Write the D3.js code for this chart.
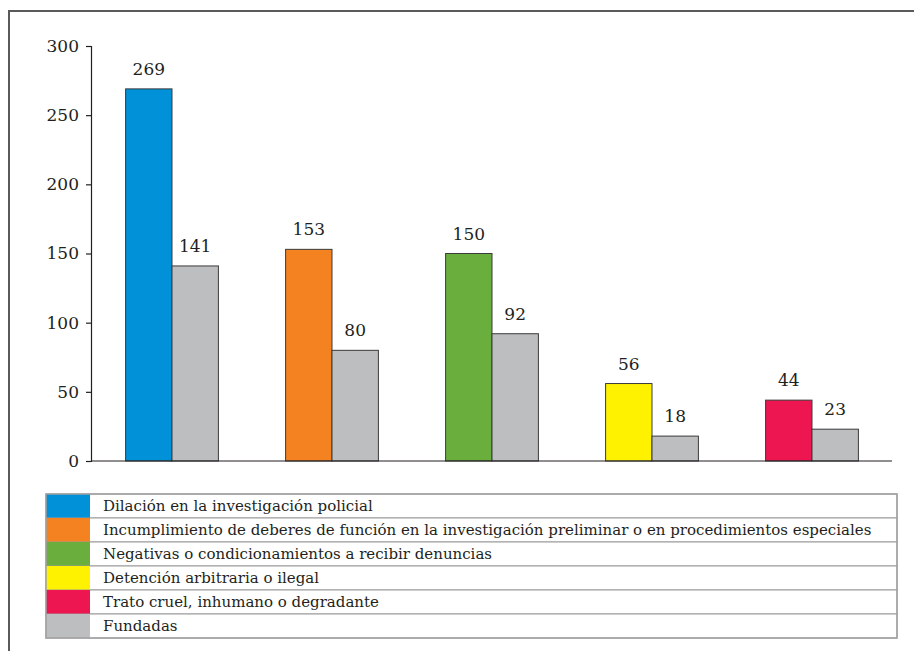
<!DOCTYPE html>
<html>
<head>
<meta charset="utf-8">
<script src="https://cdn.jsdelivr.net/npm/d3@7"></script>
<style>
  body { margin: 0; background: #fff; }
  text { font-family: "DejaVu Serif", serif; fill: #231f20; }
</style>
</head>
<body>
<script>
// Categories (legend order) and values
const categories = [
  'Dilación en la investigación policial',
  'Incumplimiento de deberes de función en la investigación preliminar o en procedimientos especiales',
  'Negativas o condicionamientos a recibir denuncias',
  'Detención arbitraria o ilegal',
  'Trato cruel, inhumano o degradante'
];
const totals = [269, 153, 150, 56, 44];
const fundadas = [141, 80, 92, 18, 23];
const colors = ['#0091d8', '#f58220', '#6aae3e', '#fff200', '#ed1651'];
const grayColor = '#bcbec0';
const yTicks = [0, 50, 100, 150, 200, 250, 300];
const legendLabels = categories.concat(['Fundadas']);
const legendColors = colors.concat([grayColor]);

const W = 914, H = 651;
const svg = d3.select('body').append('svg')
  .attr('width', W)
  .attr('height', H);

// outer frame (left and top edges visible)
svg.append('path')
  .attr('d', 'M9,' + H + ' L9,11 L' + W + ',11')
  .attr('fill', 'none')
  .attr('stroke', '#5a5a5a')
  .attr('stroke-width', 2);

// Scales
const x0 = d3.scaleBand()
  .domain(d3.range(categories.length))
  .range([92, 892])
  .paddingInner(0.42)
  .paddingOuter(0.21);

const x1 = d3.scaleBand()
  .domain(['total', 'fundadas'])
  .range([0, x0.bandwidth()]);

const y = d3.scaleLinear()
  .domain([0, 300])
  .range([461, 46]);

// Y axis
const yAxis = svg.append('g')
  .attr('transform', 'translate(91,0)')
  .call(d3.axisLeft(y).tickValues(yTicks).tickSize(5).tickPadding(7).tickFormat(d3.format('d')));
yAxis.select('.domain').attr('stroke', '#231f20').attr('stroke-width', 1.2);
yAxis.selectAll('.tick line').attr('stroke', '#231f20').attr('stroke-width', 1.2);
yAxis.selectAll('.tick text')
  .attr('font-family', 'DejaVu Serif')
  .attr('font-size', 17)
  .attr('fill', '#231f20');

// Build rows
const rows = categories.map((c, i) => ({
  i: i,
  total: totals[i],
  fundadas: fundadas[i],
  color: colors[i]
}));

const groups = svg.selectAll('g.grp')
  .data(rows)
  .enter().append('g')
  .attr('class', 'grp')
  .attr('transform', d => 'translate(' + x0(d.i) + ',0)');

const bars = groups.selectAll('g.bar')
  .data(d => [
    { key: 'total', value: d.total, color: d.color },
    { key: 'fundadas', value: d.fundadas, color: grayColor }
  ])
  .enter().append('g')
  .attr('class', 'bar');

bars.append('rect')
  .attr('x', d => x1(d.key))
  .attr('y', d => y(d.value))
  .attr('width', x1.bandwidth())
  .attr('height', d => y(0) - y(d.value))
  .attr('fill', d => d.color)
  .attr('stroke', '#3a3a3a')
  .attr('stroke-width', 1);

bars.append('text')
  .attr('x', d => x1(d.key) + x1.bandwidth() / 2)
  .attr('y', d => y(d.value) - 14)
  .attr('text-anchor', 'middle')
  .attr('font-size', 17)
  .text(d => d.value);

// x baseline
svg.append('line')
  .attr('x1', 91).attr('x2', 892)
  .attr('y1', y(0)).attr('y2', y(0))
  .attr('stroke', '#231f20')
  .attr('stroke-width', 1.2);

// Legend table
const lg = { x: 46, y: 494, w: 851, rowH: 24, swatchW: 44 };
const legend = svg.append('g');

const lrows = legend.selectAll('g.lrow')
  .data(legendLabels)
  .enter().append('g')
  .attr('class', 'lrow')
  .attr('transform', (d, i) => 'translate(' + lg.x + ',' + (lg.y + i * lg.rowH) + ')');

lrows.append('rect')
  .attr('width', lg.w)
  .attr('height', lg.rowH)
  .attr('fill', '#fff')
  .attr('stroke', '#9a9a9a')
  .attr('stroke-width', 1);

lrows.append('rect')
  .attr('width', lg.swatchW)
  .attr('height', lg.rowH)
  .attr('fill', (d, i) => legendColors[i]);

lrows.append('text')
  .attr('x', 57)
  .attr('y', lg.rowH / 2 + 5)
  .attr('font-size', 15)
  .text(d => d);

legend.append('rect')
  .attr('x', lg.x).attr('y', lg.y)
  .attr('width', lg.w).attr('height', lg.rowH * legendLabels.length)
  .attr('fill', 'none')
  .attr('stroke', '#a0a0a0')
  .attr('stroke-width', 1.5);
</script>
</body>
</html>
